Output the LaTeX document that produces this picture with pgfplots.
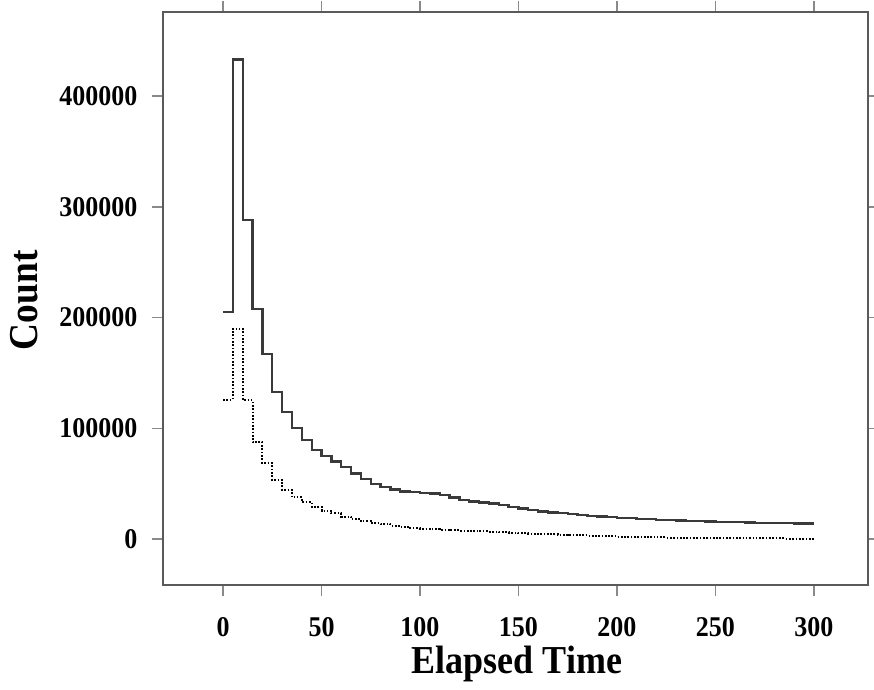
\documentclass[border=0pt]{standalone}
\usepackage{fontspec}
\setmainfont{Liberation Serif}
\usepackage{graphicx}
\usepackage{pgfplots}
\pgfplotsset{compat=1.18}
\usetikzlibrary{calc}
\definecolor{framecol}{HTML}{5A5A5A}
\definecolor{tickcol}{HTML}{8A8A8A}
\definecolor{linecol}{HTML}{3A3A3A}
\newcommand{\tall}[1]{\scalebox{1}[1.1]{#1}}

\begin{document}
\begin{tikzpicture}
\begin{axis}[
  scale only axis,
  width=528.75pt, height=429.75pt,
  xmin=-30.5, xmax=327.5, ymin=-41500, ymax=476000,
  xtick={0,50,...,300}, ytick={0,100000,200000,300000,400000},
  tick align=outside, major tick length=8.25pt,
  axis line style={draw=framecol, line width=1.3pt},
  every tick/.style={draw=tickcol, line width=1pt},
  scaled y ticks=false,
  /pgf/number format/fixed,
  /pgf/number format/1000 sep={},
  /pgf/number format/assume math mode=true,
  ticklabel style={font=\fontsize{19.5}{21}\selectfont\bfseries},
  xticklabel={\tall{\pgfmathprintnumber{\tick}}},
  yticklabel={\tall{\pgfmathprintnumber{\tick}}},
  xticklabel style={anchor=base, yshift=-30pt},
  yticklabel style={anchor=east, xshift=-7.5pt},
  xlabel={\tall{Elapsed Time}}, ylabel={\tall{Count}},
  xlabel style={font=\fontsize{27}{30}\selectfont\bfseries,
    at={(axis description cs:0.502,-0.1545)}, anchor=base},
  ylabel style={font=\fontsize{28}{30}\selectfont\bfseries,
    at={(axis description cs:-0.1787,0.497)}, anchor=base},
]
% total counts, 5-unit bins
\addplot[const plot, draw=linecol, line width=1.7pt] coordinates {
(0,205000) (5,433000) (10,288000) (15,208000) (20,167000) (25,133000)
(30,115000) (35,100500) (40,89500) (45,80700) (50,75000) (55,70000)
(60,65000) (65,59300) (70,54500) (75,50000) (80,47000) (85,44700)
(90,43000) (95,42200) (100,41700) (105,41200) (110,39800) (115,37500)
(120,35500) (125,34000) (130,33000) (135,32000) (140,30800) (145,29000)
(150,27500) (155,26300) (160,25000) (165,24000) (170,23200) (175,22500)
(180,21800) (185,21000) (190,20400) (195,19800) (200,19300) (205,18800)
(210,18300) (215,17900) (220,17500) (225,17100) (230,16800) (235,16500)
(240,16200) (245,15900) (250,15700) (255,15400) (260,15200) (265,15000)
(270,14800) (275,14600) (280,14400) (285,14200) (290,14000) (295,14100)
(300,14100)
};
% subset counts
\addplot[const plot, draw=black, line width=1.5pt, dash pattern=on 1.2pt off 1.3pt] coordinates {
(0,126000) (5,190000) (10,125600) (15,87300) (20,68400) (25,53300)
(30,44300) (35,37700) (40,33500) (45,29200) (50,25600) (55,23200)
(60,20300) (65,18000) (70,16000) (75,14300) (80,13300) (85,12000)
(90,11100) (95,10000) (100,9500) (105,9000) (110,8600) (115,8100)
(120,7700) (125,7300) (130,6900) (135,6500) (140,6100) (145,5700)
(150,5300) (155,5000) (160,4700) (165,4300) (170,4000) (175,3700)
(180,3400) (185,3100) (190,2800) (195,2600) (200,2300) (205,2100)
(210,1900) (215,1700) (220,1500) (225,1400) (230,1300) (235,1200)
(240,1100) (245,1000) (250,900) (255,800) (260,700) (265,650)
(270,600) (275,550) (280,500) (285,450) (290,400) (295,400)
(300,400)
};
\end{axis}
\pgfresetboundingbox
\useasboundingbox (current axis.south west) ++(-122.25pt,-78pt)
  rectangle ($(current axis.north east)+(4.5pt,9pt)$);
\end{tikzpicture}
\end{document}
